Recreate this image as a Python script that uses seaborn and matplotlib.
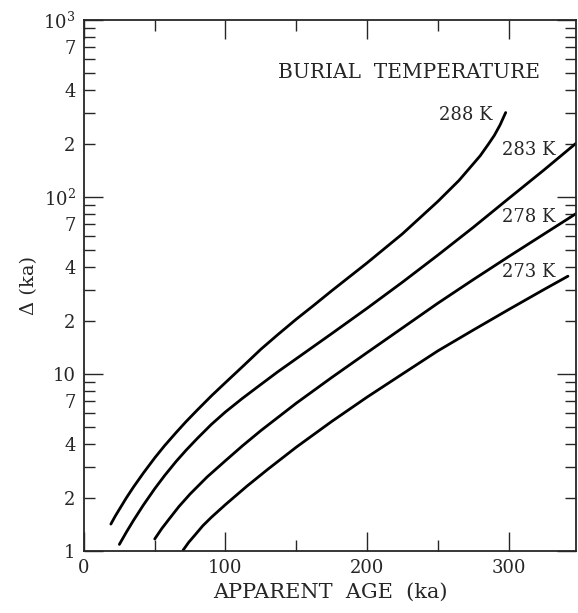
import numpy as np
import pandas as pd
import matplotlib
matplotlib.use("Agg")
import matplotlib.pyplot as plt
import matplotlib.ticker as mticker
import seaborn as sns

# Apparent age (ka) vs Delta (ka), one curve per burial temperature
temps = ["288 K", "283 K", "278 K", "273 K"]

age_288 = [19, 22, 25, 30, 35, 42, 50, 57, 65, 72, 80, 90, 100, 112, 125, 137, 150,
           162, 175, 200, 225, 250, 265, 280, 286, 290, 294, 298]
delta_288 = [1.42, 1.57, 1.72, 2.0, 2.30, 2.76, 3.36, 3.94, 4.66, 5.37, 6.25, 7.52,
             8.95, 11.0, 13.8, 16.7, 20.4, 24.3, 29.5, 42.4, 61.9, 94.3, 124, 171,
             200, 223, 255, 300]

age_283 = [25, 30, 35, 42, 50, 57, 65, 72, 80, 90, 100, 112, 125, 137, 150, 175,
           200, 225, 250, 275, 300, 325, 348]
delta_283 = [1.09, 1.28, 1.49, 1.82, 2.25, 2.67, 3.20, 3.70, 4.32, 5.19, 6.11, 7.29,
             8.73, 10.3, 12.2, 16.9, 23.5, 33.0, 46.9, 67.3, 97.9, 142, 202]

age_278 = [50, 55, 60, 67, 75, 87, 100, 112, 125, 150, 175, 200, 225, 250, 275,
           300, 325, 348]
delta_278 = [1.17, 1.34, 1.51, 1.78, 2.10, 2.62, 3.24, 3.93, 4.79, 6.84, 9.55, 13.2,
             18.2, 25.1, 34.1, 46.0, 61.7, 80.8]

age_273 = [70, 74, 78, 84, 90, 100, 115, 130, 150, 175, 200, 225, 250, 275, 300,
           325, 342]
delta_273 = [1.01, 1.12, 1.22, 1.39, 1.55, 1.83, 2.32, 2.90, 3.86, 5.39, 7.40, 10.0,
             13.5, 17.7, 23.1, 30.0, 35.7]

# label anchor (right edge) for each curve
label_x = [289, 333, 333, 333]
label_y = [290, 184, 77, 37.7]

ages = [age_288, age_283, age_278, age_273]
deltas = [delta_288, delta_283, delta_278, delta_273]
df = pd.concat([pd.DataFrame({"age": a, "delta": d, "temp": t})
                for a, d, t in zip(ages, deltas, temps)], ignore_index=True)

sns.set_style("ticks")
plt.rcParams["font.family"] = ["DejaVu Serif"]
plt.rcParams["mathtext.fontset"] = "dejavuserif"

fig = plt.figure(figsize=(5.78, 6.13), dpi=100)
ax = fig.add_axes([0.1453, 0.1011, 0.852, 0.8663])

sns.lineplot(data=df, x="age", y="delta", hue="temp", units="temp",
             estimator=None, sort=False, palette=["black"] * 4,
             linewidth=2.0, legend=False, ax=ax,
             solid_joinstyle="round", solid_capstyle="round")

ax.set_yscale("log")
ax.set_xlim(0, 348)
ax.set_ylim(1, 1000)

ax.xaxis.set_major_locator(mticker.MultipleLocator(100))
ax.xaxis.set_minor_locator(mticker.MultipleLocator(50))
ax.yaxis.set_major_locator(mticker.LogLocator(base=10, numticks=10))
ax.yaxis.set_minor_locator(mticker.LogLocator(base=10, subs=np.arange(2, 10), numticks=10))

decade_lbl = {1: "1", 10: "10", 100: r"$10^2$", 1000: r"$10^3$"}
ax.yaxis.set_major_formatter(mticker.FuncFormatter(
    lambda v, p: decade_lbl.get(int(round(v)), "")))

def minor_lbl(v, p):
    m = int(round(v / 10 ** np.floor(np.log10(v) + 1e-9)))
    return str(m) if m in (2, 4, 7) else ""

ax.yaxis.set_minor_formatter(mticker.FuncFormatter(minor_lbl))

ax.tick_params(which="both", direction="in", top=True, right=True,
               labelsize=13, width=1.0, pad=6)
ax.tick_params(which="major", length=14)
ax.tick_params(which="minor", length=8)
for s in ax.spines.values():
    s.set_linewidth(1.3)

ax.set_xlabel("APPARENT  AGE  (ka)", fontsize=15)
ax.set_ylabel("Δ (ka)", fontsize=14)

ax.text(230, 508, "BURIAL  TEMPERATURE", ha="center", va="center", fontsize=14.5)
for t, lx, ly in zip(temps, label_x, label_y):
    ax.text(lx, ly, t, ha="right", va="center", fontsize=13)

fig.savefig("out.png", dpi=100)
